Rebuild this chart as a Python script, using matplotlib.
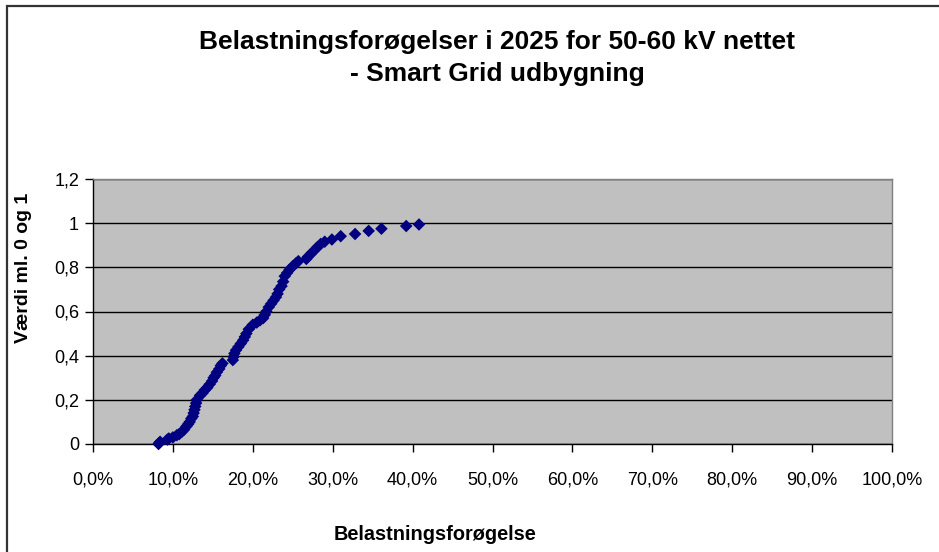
import matplotlib
matplotlib.use("Agg")
import matplotlib.pyplot as plt
from matplotlib.ticker import FixedLocator, FuncFormatter
from matplotlib.patches import Rectangle

plt.rcParams['font.family'] = ['Liberation Sans', 'DejaVu Sans']

title = "Belastningsforøgelser i 2025 for 50-60 kV nettet\n- Smart Grid udbygning"
xlabel = "Belastningsforøgelse"
ylabel = "Værdi ml. 0 og 1"

# load increase (%) and cumulative value
load_pct = [8.2, 8.3, 8.4, 9.3, 9.5, 10.0, 10.5, 10.8, 11.1, 11.4, 11.7, 11.9, 12.1, 12.3,
            12.5, 12.6, 12.7, 12.8, 12.9, 13.0, 13.4, 13.7, 14.0, 14.3, 14.6, 14.9, 15.1,
            15.3, 15.5, 15.8, 16.0, 16.2, 17.5, 17.6, 17.7, 17.9, 18.2, 18.5, 18.8, 19.0,
            19.2, 19.5, 20.0, 20.5, 20.9, 21.3, 21.5, 21.7, 22.0, 22.3, 22.6, 22.9, 23.1,
            23.3, 23.6, 23.8, 24.0, 24.3, 24.6, 25.0, 25.4, 25.7, 26.7, 26.9, 27.3, 27.7,
            28.1, 28.5, 29.0, 29.9, 31.0, 32.8, 34.5, 36.1, 39.2, 40.8]
value = [0.0, 0.005, 0.01, 0.02, 0.025, 0.03, 0.04, 0.045, 0.055, 0.065, 0.08, 0.09, 0.10,
         0.115, 0.125, 0.14, 0.155, 0.17, 0.185, 0.20, 0.22, 0.23, 0.245, 0.255, 0.27, 0.285,
         0.30, 0.31, 0.325, 0.34, 0.355, 0.365, 0.38, 0.395, 0.41, 0.425, 0.44, 0.455, 0.47,
         0.485, 0.50, 0.52, 0.54, 0.55, 0.56, 0.57, 0.585, 0.60, 0.62, 0.635, 0.65, 0.665,
         0.68, 0.70, 0.715, 0.735, 0.76, 0.775, 0.79, 0.805, 0.818, 0.828, 0.838, 0.848,
         0.862, 0.877, 0.892, 0.906, 0.916, 0.926, 0.941, 0.951, 0.965, 0.975, 0.987, 0.994]

x_ticks = [0, 10, 20, 30, 40, 50, 60, 70, 80, 90, 100]
y_ticks = [0, 0.2, 0.4, 0.6, 0.8, 1.0, 1.2]
y_tick_labels = ["0", "0,2", "0,4", "0,6", "0,8", "1", "1,2"]

W, H = 939, 552
fig = plt.figure(figsize=(W / 100, H / 100), dpi=100)
fig.patch.set_facecolor("white")

L, R, T, B = 93, 892, 179, 444
ax = fig.add_axes([L / W, (H - B) / H, (R - L) / W, (B - T) / H])
ax.set_facecolor("#C0C0C0")
ax.set_xlim(0, 100)
ax.set_ylim(0, 1.2)

ax.scatter(load_pct, value, marker="D", s=6.4 ** 2, color="#000080",
           edgecolors="none", zorder=3, clip_on=False)

ax.xaxis.set_major_locator(FixedLocator(x_ticks))
ax.xaxis.set_major_formatter(FuncFormatter(lambda v, p: f"{v:.1f}%".replace(".", ",")))
ax.set_yticks(y_ticks)
ax.set_yticklabels(y_tick_labels)
ax.yaxis.grid(True, color="black", linewidth=1.0)
ax.set_axisbelow(True)
ax.tick_params(axis="both", direction="out", length=6, width=1, color="black",
               labelsize=13, labelcolor="black")
ax.tick_params(axis="x", pad=14)
ax.tick_params(axis="y", pad=4)

for s in ["left", "bottom"]:
    ax.spines[s].set_color("black")
    ax.spines[s].set_linewidth(1.0)
for s in ["top", "right"]:
    ax.spines[s].set_color("#808080")
    ax.spines[s].set_linewidth(1.0)

fig.text(497 / W, 1 - 58 / H, title, ha="center", va="center", fontsize=19,
         fontweight="bold", linespacing=1.38)
fig.text(435 / W, 1 - 535 / H, xlabel, ha="center", va="center", fontsize=14.3,
         fontweight="bold")
fig.text(24 / W, 1 - 268 / H, ylabel, ha="center", va="center", fontsize=14,
         fontweight="bold", rotation=90)

fig.patches.append(Rectangle((7 / W, -0.1), 2.0, 1 - 6 / H + 0.1, transform=fig.transFigure,
                             fill=False, edgecolor="#333333", linewidth=1.6))

fig.savefig("out.png", dpi=100)
